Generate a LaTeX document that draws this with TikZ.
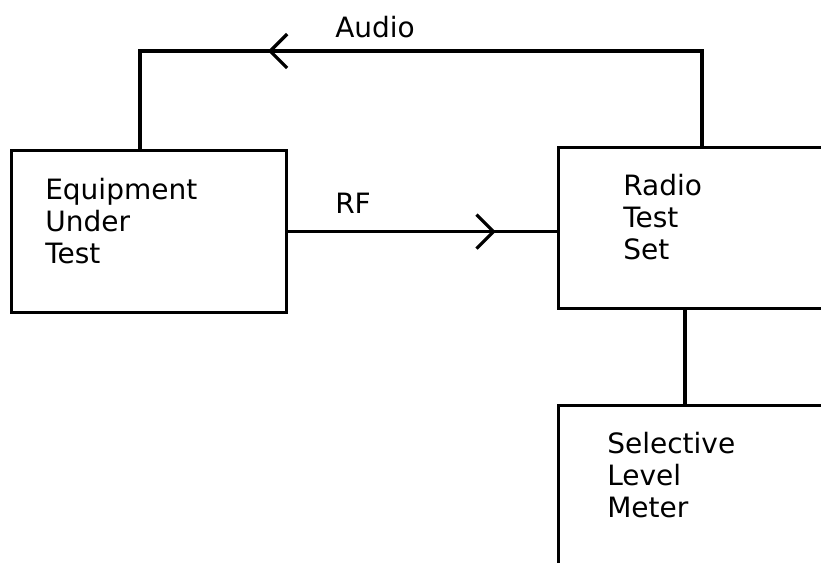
\documentclass[tikz,border=0pt]{standalone}
\usepackage{fontspec}
\setmainfont{DejaVu Sans}
\usetikzlibrary{arrows.meta, positioning, calc, decorations.markings}
\newlength\pu
\setlength\pu{0.75pt}
\tikzset{
  unitbox/.style={draw, line width=2.4pt, inner sep=0pt, anchor=north west},
  boxtext/.style={anchor=base west, align=left, inner sep=0pt,
                  font=\fontsize{21}{24}\selectfont},
  sigline/.style={line width=2.4pt},
  midarrow/.style={postaction={decorate}, decoration={markings,
      mark=at position #1 with {\arrow{Straight Barb[length=12.75pt, width=25.5pt]}}}},
}

\begin{document}
\begin{tikzpicture}[x=0.75pt, y=-0.75pt]
    \useasboundingbox (0,0) rectangle (821,562);
    \clip (0,0) rectangle (821,562);
    % boxes
    \node[unitbox, minimum width=275\pu, minimum height=162\pu] (eut) at (10,149) {};
    \node[unitbox, minimum width=343\pu, minimum height=161\pu] (rts) at (557,146) {};
    \node[unitbox, minimum width=343\pu, minimum height=250\pu] (slm) at (557,404) {};
    \node[boxtext] (eutText) at ($(eut.north west)+(35,114)$) {Equipment\\Under\\Test};
    \node[boxtext] (rtsText) at ($(rts.north west)+(66,113)$) {Radio\\Test\\Set};
    \node[boxtext] (slmText) at ($(slm.north west)+(50,113)$) {Selective\\Level\\Meter};
    % links
    \draw[sigline, midarrow=0.7007] ($(rts.north west)+(145,0)$) -- ++(0,-95)
        -| ($(eut.north west)+(130,0)$);
    \draw[sigline, midarrow=0.772] (eut.east) -- (eut.east -| rts.west);
    \draw[sigline] ($(rts.south west)+(128,0)$) -- ($(slm.north west)+(128,0)$);
    % labels
    \node[boxtext] (audio) at (335,37) {Audio};
    \node[boxtext] (rf) at (335,213) {RF};
\end{tikzpicture}
\end{document}
